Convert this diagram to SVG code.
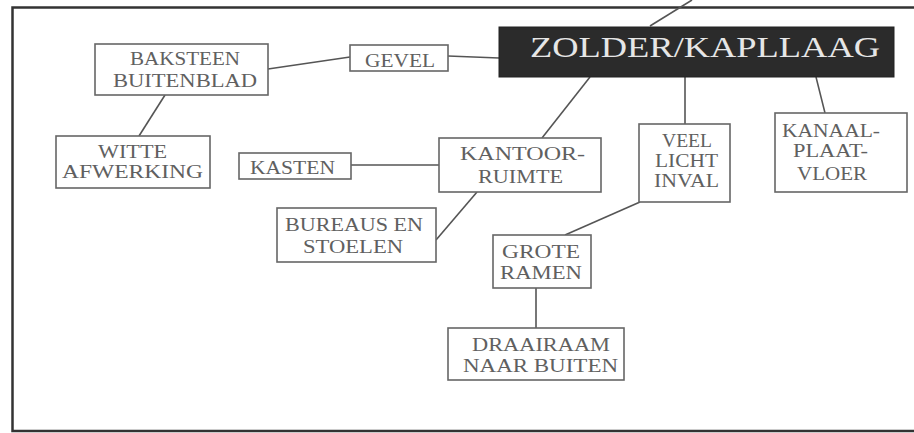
<svg xmlns="http://www.w3.org/2000/svg" width="914" height="433" viewBox="0 0 914 433">
<style>
.box{fill:#fff;stroke:#666;stroke-width:1.6}
.t{font-family:"Liberation Serif",serif;font-size:19px;fill:#606060;text-anchor:middle}
.c line{stroke:#555;stroke-width:1.6}
.frame{fill:none;stroke:#333;stroke-width:2.5}
</style>
<rect width="914" height="433" fill="#fff"/>
<path class="frame" d="M914 7.5 H12.5 V431 H914"/>
<g class="c" id="connectors">
<line x1="650" y1="26" x2="692" y2="0"/>
<line x1="448" y1="56" x2="499" y2="58"/>
<line x1="268" y1="69" x2="350" y2="57"/>
<line x1="165" y1="95" x2="139" y2="136"/>
<line x1="351" y1="165" x2="439" y2="165"/>
<line x1="590" y1="77" x2="542" y2="138"/>
<line x1="685" y1="77" x2="685" y2="124"/>
<line x1="816" y1="77" x2="825" y2="113"/>
<line x1="477" y1="192" x2="436" y2="240"/>
<line x1="640" y1="202" x2="565" y2="235"/>
<line x1="536" y1="288" x2="536" y2="328"/>
</g>
<g id="zolder">
<rect x="499" y="27" width="395" height="50" fill="#2b2b2b" stroke="#222" stroke-width="1"/>
<text class="t" x="705" y="57" style="font-size:29px;fill:#e6e6e6" textLength="350" lengthAdjust="spacingAndGlyphs">ZOLDER/KAPLLAAG</text>
</g>
<g id="baksteen">
<rect class="box" x="95" y="44" width="173" height="51"/>
<text class="t" x="185" y="65" textLength="110" lengthAdjust="spacingAndGlyphs">BAKSTEEN</text>
<text class="t" x="185" y="87" textLength="144" lengthAdjust="spacingAndGlyphs">BUITENBLAD</text>
</g>
<g id="gevel">
<rect class="box" x="350" y="45" width="98" height="26"/>
<text class="t" x="400" y="67" textLength="70" lengthAdjust="spacingAndGlyphs">GEVEL</text>
</g>
<g id="witte">
<rect class="box" x="56" y="136" width="154" height="52"/>
<text class="t" x="132.5" y="158" textLength="69" lengthAdjust="spacingAndGlyphs">WITTE</text>
<text class="t" x="132.5" y="178" textLength="141" lengthAdjust="spacingAndGlyphs">AFWERKING</text>
</g>
<g id="kasten">
<rect class="box" x="239" y="153" width="112" height="26"/>
<text class="t" x="292.5" y="174" textLength="85" lengthAdjust="spacingAndGlyphs">KASTEN</text>
</g>
<g id="kantoor">
<rect class="box" x="439" y="138" width="162" height="54"/>
<text class="t" x="522.5" y="160" textLength="125" lengthAdjust="spacingAndGlyphs">KANTOOR-</text>
<text class="t" x="520.5" y="183" textLength="85" lengthAdjust="spacingAndGlyphs">RUIMTE</text>
</g>
<g id="veel">
<rect class="box" x="639" y="124" width="91" height="78"/>
<text class="t" x="687" y="147" textLength="50" lengthAdjust="spacingAndGlyphs">VEEL</text>
<text class="t" x="686.5" y="167" textLength="63" lengthAdjust="spacingAndGlyphs">LICHT</text>
<text class="t" x="686.5" y="187" textLength="65" lengthAdjust="spacingAndGlyphs">INVAL</text>
</g>
<g id="kanaal">
<rect class="box" x="775" y="113" width="132" height="79"/>
<text class="t" x="831" y="137" textLength="98" lengthAdjust="spacingAndGlyphs">KANAAL-</text>
<text class="t" x="830.5" y="157" textLength="75" lengthAdjust="spacingAndGlyphs">PLAAT-</text>
<text class="t" x="832" y="180" textLength="70" lengthAdjust="spacingAndGlyphs">VLOER</text>
</g>
<g id="bureaus">
<rect class="box" x="277" y="208" width="159" height="54"/>
<text class="t" x="354" y="231" textLength="138" lengthAdjust="spacingAndGlyphs">BUREAUS EN</text>
<text class="t" x="353" y="253" textLength="100" lengthAdjust="spacingAndGlyphs">STOELEN</text>
</g>
<g id="grote">
<rect class="box" x="493" y="235" width="98" height="53"/>
<text class="t" x="541" y="258" textLength="78" lengthAdjust="spacingAndGlyphs">GROTE</text>
<text class="t" x="541" y="279" textLength="82" lengthAdjust="spacingAndGlyphs">RAMEN</text>
</g>
<g id="draairaam">
<rect class="box" x="448" y="328" width="176" height="52"/>
<text class="t" x="541" y="351" textLength="138" lengthAdjust="spacingAndGlyphs">DRAAIRAAM</text>
<text class="t" x="540.5" y="372" textLength="155" lengthAdjust="spacingAndGlyphs">NAAR BUITEN</text>
</g>
</svg>
